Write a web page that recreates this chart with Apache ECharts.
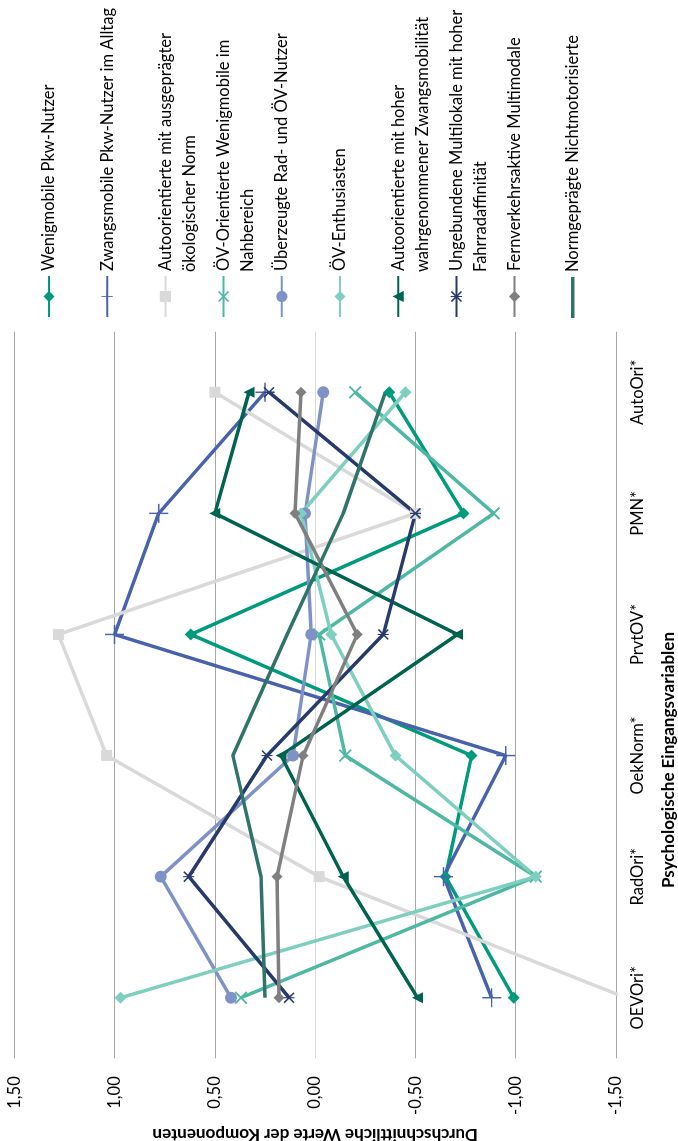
<!DOCTYPE html>
<html><head><meta charset="utf-8">
<script src="https://cdn.jsdelivr.net/npm/echarts@6/dist/echarts.min.js"></script>
<style>
html,body{margin:0;padding:0;background:#fff;overflow:hidden;width:678px;height:1141px;}
#chart{position:absolute;left:0;top:0;width:1141px;height:678px;transform-origin:0 0;transform:translate(0,1141px) rotate(-90deg);}
</style></head><body><div id="chart"></div>
<script>
// ---- data ----
const categories = ['OEVOri*', 'RadOri*', 'OekNorm*', 'PrvtOV*', 'PMN*', 'AutoOri*'];
const valueTicks = [-1.5, -1.0, -0.5, 0, 0.5, 1.0, 1.5];
const seriesNames = [
  'Wenigmobile Pkw-Nutzer',
  'Zwangsmobile Pkw-Nutzer im Alltag',
  'Autoorientierte mit ausgeprägter ökologischer Norm',
  'ÖV-Orientierte Wenigmobile im Nahbereich',
  'Überzeugte Rad- und ÖV-Nutzer',
  'ÖV-Enthusiasten',
  'Autoorientierte mit hoher wahrgenommener Zwangsmobilität',
  'Ungebundene Multilokale mit hoher Fahrradaffinität',
  'Fernverkehrsaktive Multimodale',
  'Normgeprägte Nichtmotorisierte'
];
const legendLine1 = [
  'Wenigmobile Pkw-Nutzer', 'Zwangsmobile Pkw-Nutzer im Alltag', 'Autoorientierte mit ausgeprägter',
  'ÖV-Orientierte Wenigmobile im', 'Überzeugte Rad- und ÖV-Nutzer', 'ÖV-Enthusiasten',
  'Autoorientierte mit hoher', 'Ungebundene Multilokale mit hoher', 'Fernverkehrsaktive Multimodale',
  'Normgeprägte Nichtmotorisierte'
];
const legendLine2 = ['', '', 'ökologischer Norm', 'Nahbereich', '', '', 'wahrgenommener Zwangsmobilität', 'Fahrradaffinität', '', ''];

const wenigmobile      = [-0.99, -0.65, -0.78,  0.62, -0.74, -0.37];
const zwangsmobile     = [-0.88, -0.64, -0.95,  1.00,  0.78,  0.25];
const autoOekoNorm     = [-1.55, -0.02,  1.04,  1.28, -0.50,  0.50];
const oevWenigmobile   = [ 0.37, -1.10, -0.15, -0.02, -0.89, -0.20];
const radOevNutzer     = [ 0.42,  0.77,  0.11,  0.02,  0.05, -0.04];
const oevEnthusiasten  = [ 0.97, -1.10, -0.40, -0.08,  0.07, -0.45];
const autoZwang        = [-0.51, -0.14,  0.17, -0.71,  0.50,  0.33];
const multilokale      = [ 0.13,  0.63,  0.24, -0.34, -0.50,  0.23];
const fernverkehr      = [ 0.18,  0.19,  0.06, -0.21,  0.10,  0.07];
const nichtmotorisiert = [ 0.25,  0.27,  0.41,  0.14, -0.14, -0.35];
const seriesValues = [wenigmobile, zwangsmobile, autoOekoNorm, oevWenigmobile, radOevNutzer,
  oevEnthusiasten, autoZwang, multilokale, fernverkehr, nichtmotorisiert];

// ---- style ----
const colors = ['#009B7D', '#4863AB', '#D9D9D9', '#4FB8A4', '#7E92C8', '#7FCFC0', '#00634F', '#263A6B', '#7F7F7F', '#2F7468'];
const P_PLUS = 'path://M0,9.25 L20,9.25 L20,10.75 L0,10.75 Z M9.25,0 L10.75,0 L10.75,20 L9.25,20 Z';
const P_X = 'path://M0,1 L1,0 L10,9 L9,10 Z M9,0 L10,1 L1,10 L0,9 Z';
const P_STAR = 'path://M0,1 L1,0 L10,9 L9,10 Z M9,0 L10,1 L1,10 L0,9 Z M4.5,0 L5.5,0 L5.5,10 L4.5,10 Z';
const P_LINEONLY = 'path://M0,0 L41,0 L41,3.5 L0,3.5 Z';
const symbols = ['diamond', P_PLUS, 'rect', P_X, 'circle', 'diamond', 'triangle', P_STAR, 'diamond', 'none'];
const symbolSizes = [12, 19, 11, 13, 12, 12, 11, 11, 11, 0];
const FONT = 'Lato, "Liberation Sans", sans-serif';

const chart = echarts.init(document.getElementById('chart'));

const legendTop0 = 49, legendStep = 58.2;
const legends = seriesNames.map((n, i) => ({
  data: [symbols[i] === 'none' ? { name: n, icon: P_LINEONLY } : n],
  orient: 'vertical', left: 823, top: legendTop0 + legendStep * i - 12,
  padding: 0, itemWidth: 41, itemHeight: 14, selectedMode: false,
  formatter: () => legendLine1[i],
  textStyle: { fontFamily: FONT, fontSize: 16.5, lineHeight: 24, color: '#000' }
}));
const graphics = [];
legendLine2.forEach((t, i) => {
  if (t) graphics.push({ type: 'text', x: 869, y: legendTop0 + legendStep * i + 24,
    style: { text: t, fontFamily: FONT, fontSize: 16.5, fill: '#000', verticalAlign: 'middle' } });
});
graphics.push({ type: 'text', x: 381, y: 669,
  style: { text: 'Psychologische Eingangsvariablen', fontFamily: FONT, fontSize: 17, fontWeight: 'bold',
    fill: '#000', align: 'center', verticalAlign: 'middle' } });

chart.setOption({
  animation: false,
  backgroundColor: '#fff',
  grid: { left: 82.7, right: 331.7, top: 14.3, bottom: 62, containLabel: false, outerBoundsMode: 'none' },
  legend: legends,
  graphic: graphics,
  xAxis: {
    type: 'category', data: categories, boundaryGap: true,
    axisLine: { show: false, onZero: false }, axisTick: { show: false },
    axisLabel: { fontFamily: FONT, fontSize: 16.5, color: '#000', margin: 13 },
    splitLine: { show: false }
  },
  yAxis: {
    type: 'value', min: valueTicks[0], max: valueTicks[valueTicks.length - 1], interval: 0.5,
    axisLine: { show: false }, axisTick: { show: false },
    axisLabel: { fontFamily: FONT, fontSize: 16.5, color: '#000', margin: 18,
      formatter: v => v.toFixed(2).replace('.', ',') },
    splitLine: { show: true, showMinLine: true, showMaxLine: true,
      lineStyle: { width: 1, color: ['#A6A6A6', '#A6A6A6', '#A6A6A6', '#D9D9D9', '#A6A6A6', '#A6A6A6', '#A6A6A6'] } },
    name: 'Durchschnittliche Werte der Komponenten', nameLocation: 'middle', nameGap: 64, nameRotate: 90,
    nameTextStyle: { fontFamily: FONT, fontSize: 17, fontWeight: 'bold', color: '#000' }
  },
  series: seriesValues.map((vals, i) => ({
    name: seriesNames[i], type: 'line', data: vals, clip: true,
    symbol: symbols[i], symbolSize: symbolSizes[i], showSymbol: symbols[i] !== 'none', showAllSymbol: true,
    lineStyle: { width: 3.5, color: colors[i] },
    itemStyle: { color: colors[i], borderWidth: 0 },
    emphasis: { disabled: true }
  }))
});
</script></body></html>
